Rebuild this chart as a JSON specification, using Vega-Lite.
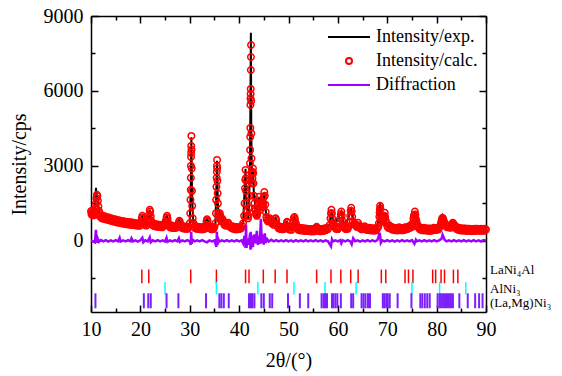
{
"$schema": "https://vega.github.io/schema/vega-lite/v6.json",
"width": 395, "height": 296,
"autosize": {"type": "none"},
"padding": {"left": 91, "top": 16, "right": 76, "bottom": 64},
"config": {"font": "Liberation Serif", "view": {"stroke": null},
 "legend": {"orient": "none", "legendX": 249, "legendY": 12, "labelFont": "Liberation Serif", "labelFontSize": 18, "labelColor": "black", "symbolStrokeWidth": 2, "symbolSize": 36, "labelOffset": 18, "rowPadding": 6, "padding": 0}},
"datasets": {
"calc": [
{"x":10.0,"c":1180},{"x":10.1,"c":1060},{"x":10.2,"c":1200},{"x":10.3,"c":1040},{"x":10.4,"c":1150},{"x":10.5,"c":1020},{"x":10.6,"c":1160},{"x":10.7,"c":1050},{"x":10.8,"c":1120},{"x":10.9,"c":1300},{"x":11.0,"c":1500},{"x":11.1,"c":1700},{"x":11.2,"c":1840},{"x":11.3,"c":1780},{"x":11.4,"c":1600},{"x":11.5,"c":1380},{"x":11.6,"c":1200},{"x":11.7,"c":1000},{"x":11.8,"c":1100},{"x":11.9,"c":960},{"x":12.0,"c":1010},
{"x":12.2,"c":900},{"x":12.4,"c":1000},{"x":12.6,"c":880},{"x":12.8,"c":980},{"x":13.0,"c":860},{"x":13.2,"c":940},{"x":13.4,"c":840},{"x":13.6,"c":930},{"x":13.8,"c":820},{"x":14.0,"c":900},{"x":14.2,"c":790},{"x":14.4,"c":880},{"x":14.6,"c":770},{"x":14.8,"c":860},{"x":15.0,"c":750},{"x":15.2,"c":840},{"x":15.4,"c":730},{"x":15.6,"c":820},{"x":15.8,"c":720},{"x":16.0,"c":800},{"x":16.2,"c":700},{"x":16.4,"c":790},{"x":16.6,"c":690},{"x":16.8,"c":770},{"x":17.0,"c":670},{"x":17.2,"c":760},{"x":17.4,"c":660},{"x":17.6,"c":750},{"x":17.8,"c":650},{"x":18.0,"c":740},{"x":18.2,"c":640},{"x":18.4,"c":730},{"x":18.6,"c":630},{"x":18.8,"c":710},{"x":19.0,"c":620},{"x":19.2,"c":700},{"x":19.4,"c":610},{"x":19.6,"c":690},{"x":19.8,"c":600},{"x":20.0,"c":690},
{"x":20.2,"c":780},{"x":20.3,"c":900},{"x":20.4,"c":1000},{"x":20.5,"c":930},{"x":20.6,"c":780},{"x":20.8,"c":640},{"x":21.0,"c":720},{"x":21.2,"c":610},{"x":21.4,"c":680},{"x":21.6,"c":780},{"x":21.7,"c":880},{"x":21.8,"c":1060},{"x":21.9,"c":1240},{"x":22.0,"c":1170},{"x":22.1,"c":980},{"x":22.2,"c":800},{"x":22.4,"c":640},{"x":22.6,"c":700},{"x":22.8,"c":590},{"x":23.0,"c":670},{"x":23.2,"c":570},{"x":23.4,"c":650},{"x":23.6,"c":560},{"x":23.8,"c":640},{"x":24.0,"c":550},{"x":24.2,"c":630},{"x":24.4,"c":540},{"x":24.6,"c":640},{"x":24.8,"c":600},{"x":25.0,"c":680},{"x":25.1,"c":780},{"x":25.3,"c":930},{"x":25.4,"c":1000},{"x":25.5,"c":880},{"x":25.7,"c":700},{"x":25.8,"c":620},{"x":26.0,"c":540},{"x":26.2,"c":610},{"x":26.4,"c":520},{"x":26.6,"c":600},{"x":26.8,"c":510},{"x":27.0,"c":590},{"x":27.2,"c":520},{"x":27.4,"c":600},{"x":27.6,"c":640},{"x":27.8,"c":740},{"x":27.9,"c":800},{"x":28.0,"c":750},{"x":28.2,"c":620},{"x":28.4,"c":520},{"x":28.6,"c":580},{"x":28.8,"c":490},{"x":29.0,"c":570},{"x":29.2,"c":480},{"x":29.4,"c":560},{"x":29.6,"c":480},{"x":29.8,"c":560},{"x":30.0,"c":700},
{"x":30.1,"c":1100},{"x":30.15,"c":1640},{"x":30.2,"c":2040},{"x":30.22,"c":2520},{"x":30.24,"c":3000},{"x":30.26,"c":3360},{"x":30.28,"c":3520},{"x":30.3,"c":3800},{"x":30.33,"c":4200},{"x":30.36,"c":3650},{"x":30.4,"c":2900},{"x":30.45,"c":2000},{"x":30.5,"c":1400},{"x":30.6,"c":900},{"x":30.7,"c":720},
{"x":30.8,"c":640},{"x":31.0,"c":520},{"x":31.2,"c":590},{"x":31.4,"c":480},{"x":31.6,"c":560},{"x":31.8,"c":470},{"x":32.0,"c":550},{"x":32.2,"c":460},{"x":32.4,"c":540},{"x":32.6,"c":460},{"x":32.8,"c":540},{"x":33.0,"c":480},{"x":33.2,"c":600},{"x":33.4,"c":780},{"x":33.5,"c":860},{"x":33.6,"c":800},{"x":33.8,"c":620},{"x":34.0,"c":500},{"x":34.2,"c":560},{"x":34.4,"c":460},{"x":34.6,"c":540},{"x":34.8,"c":470},{"x":35.0,"c":560},{"x":35.2,"c":700},
{"x":35.3,"c":1100},{"x":35.35,"c":1640},{"x":35.4,"c":2160},{"x":35.45,"c":2520},{"x":35.48,"c":2760},{"x":35.5,"c":3000},{"x":35.53,"c":3240},{"x":35.56,"c":2900},{"x":35.6,"c":2400},{"x":35.65,"c":1900},{"x":35.7,"c":1500},{"x":35.8,"c":1100},{"x":35.9,"c":900},{"x":36.0,"c":1000},{"x":36.1,"c":1100},
{"x":36.2,"c":980},{"x":36.3,"c":860},{"x":36.4,"c":780},{"x":36.5,"c":840},{"x":36.6,"c":880},{"x":36.7,"c":820},{"x":36.8,"c":760},{"x":37.0,"c":640},{"x":37.2,"c":700},{"x":37.4,"c":600},{"x":37.6,"c":680},{"x":37.8,"c":720},{"x":38.0,"c":640},{"x":38.2,"c":560},{"x":38.4,"c":520},{"x":38.6,"c":580},{"x":38.8,"c":480},{"x":39.0,"c":560},{"x":39.2,"c":460},{"x":39.4,"c":550},{"x":39.6,"c":460},{"x":39.8,"c":540},{"x":40.0,"c":470},{"x":40.2,"c":550},{"x":40.4,"c":500},{"x":40.6,"c":600},{"x":40.8,"c":700},
{"x":41.0,"c":1000},{"x":41.1,"c":1500},{"x":41.2,"c":2100},{"x":41.25,"c":2440},{"x":41.3,"c":2840},{"x":41.35,"c":2500},{"x":41.4,"c":2000},{"x":41.5,"c":1500},{"x":41.6,"c":1200},{"x":41.7,"c":1000},{"x":41.8,"c":900},{"x":41.9,"c":1000},{"x":42.0,"c":1300},{"x":42.1,"c":1800},{"x":42.15,"c":2400},{"x":42.2,"c":3100},{"x":42.23,"c":3640},{"x":42.25,"c":4160},{"x":42.27,"c":4520},{"x":42.29,"c":5440},{"x":42.31,"c":5700},{"x":42.33,"c":5880},{"x":42.35,"c":6080},{"x":42.37,"c":6840},{"x":42.39,"c":7360},{"x":42.41,"c":7840},{"x":42.44,"c":5600},{"x":42.47,"c":4300},{"x":42.5,"c":3300},{"x":42.55,"c":2700},{"x":42.6,"c":2300},{"x":42.7,"c":2500},{"x":42.75,"c":2760},{"x":42.8,"c":2900},{"x":42.85,"c":2700},{"x":42.9,"c":2300},{"x":43.0,"c":1800},{"x":43.1,"c":1500},{"x":43.2,"c":1300},{"x":43.3,"c":1200},{"x":43.4,"c":1100},{"x":43.5,"c":1050},{"x":43.6,"c":1000},{"x":43.7,"c":1100},{"x":43.8,"c":1300},{"x":43.9,"c":1500},{"x":44.0,"c":1760},{"x":44.1,"c":1600},{"x":44.2,"c":1400},{"x":44.3,"c":1250},{"x":44.4,"c":1350},{"x":44.5,"c":1500},{"x":44.6,"c":1550},{"x":44.7,"c":1500},{"x":44.8,"c":1350},{"x":44.9,"c":1500},{"x":45.0,"c":1750},{"x":45.1,"c":1950},{"x":45.2,"c":1800},{"x":45.3,"c":1450},{"x":45.4,"c":1150},{"x":45.5,"c":950},{"x":45.6,"c":850},
{"x":45.8,"c":780},{"x":46.0,"c":820},{"x":46.1,"c":880},{"x":46.2,"c":900},{"x":46.3,"c":850},{"x":46.4,"c":800},{"x":46.6,"c":700},{"x":46.8,"c":720},{"x":47.0,"c":640},{"x":47.1,"c":720},{"x":47.3,"c":880},{"x":47.4,"c":900},{"x":47.5,"c":820},{"x":47.7,"c":650},{"x":47.8,"c":580},{"x":48.0,"c":500},{"x":48.2,"c":560},{"x":48.4,"c":470},{"x":48.6,"c":550},{"x":48.8,"c":460},{"x":49.0,"c":540},{"x":49.2,"c":480},{"x":49.4,"c":560},{"x":49.5,"c":620},{"x":49.7,"c":760},{"x":49.8,"c":720},{"x":50.0,"c":560},{"x":50.2,"c":450},{"x":50.4,"c":530},{"x":50.6,"c":440},{"x":50.8,"c":560},{"x":51.0,"c":760},{"x":51.1,"c":920},{"x":51.2,"c":950},{"x":51.3,"c":860},{"x":51.5,"c":700},{"x":51.6,"c":600},{"x":51.8,"c":520},{"x":52.0,"c":440},{"x":52.2,"c":520},{"x":52.4,"c":420},{"x":52.6,"c":510},{"x":52.8,"c":410},{"x":53.0,"c":500},{"x":53.2,"c":400},{"x":53.4,"c":490},{"x":53.6,"c":390},{"x":53.8,"c":480},{"x":54.0,"c":390},{"x":54.2,"c":470},{"x":54.4,"c":380},{"x":54.6,"c":470},{"x":54.8,"c":380},{"x":55.0,"c":460},{"x":55.2,"c":380},{"x":55.4,"c":470},{"x":55.6,"c":520},{"x":55.7,"c":560},{"x":55.8,"c":480},{"x":56.0,"c":400},{"x":56.2,"c":470},{"x":56.4,"c":380},{"x":56.6,"c":470},{"x":56.8,"c":390},{"x":57.0,"c":480},{"x":57.2,"c":400},{"x":57.4,"c":500},{"x":57.6,"c":430},{"x":57.8,"c":510},{"x":58.0,"c":470},
{"x":58.3,"c":620},{"x":58.5,"c":900},{"x":58.6,"c":1100},{"x":58.7,"c":1240},{"x":58.8,"c":1100},{"x":58.9,"c":880},{"x":59.0,"c":720},{"x":59.2,"c":620},{"x":59.4,"c":560},{"x":59.6,"c":480},{"x":59.8,"c":560},{"x":60.0,"c":470},{"x":60.2,"c":540},{"x":60.4,"c":700},{"x":60.5,"c":900},{"x":60.6,"c":1060},{"x":60.7,"c":1170},{"x":60.8,"c":1000},{"x":60.9,"c":800},{"x":61.1,"c":620},{"x":61.3,"c":520},{"x":61.4,"c":560},{"x":61.6,"c":470},{"x":61.8,"c":540},{"x":62.0,"c":480},{"x":62.2,"c":580},{"x":62.4,"c":760},{"x":62.5,"c":1000},{"x":62.6,"c":1200},{"x":62.7,"c":1320},{"x":62.8,"c":1180},{"x":62.9,"c":960},{"x":63.0,"c":780},{"x":63.2,"c":660},{"x":63.4,"c":700},{"x":63.6,"c":640},{"x":63.8,"c":560},{"x":63.9,"c":600},{"x":64.1,"c":720},{"x":64.3,"c":620},{"x":64.4,"c":520},{"x":64.6,"c":560},{"x":64.8,"c":460},
{"x":65.0,"c":540},{"x":65.2,"c":470},{"x":65.4,"c":580},{"x":65.6,"c":540},{"x":65.8,"c":440},{"x":66.0,"c":520},{"x":66.2,"c":430},{"x":66.4,"c":520},{"x":66.6,"c":420},{"x":66.8,"c":500},{"x":67.0,"c":410},{"x":67.2,"c":500},{"x":67.4,"c":410},{"x":67.6,"c":490},{"x":67.8,"c":420},{"x":68.0,"c":520},{"x":68.2,"c":560},{"x":68.3,"c":700},{"x":68.4,"c":960},{"x":68.45,"c":1120},{"x":68.5,"c":1240},{"x":68.55,"c":1400},{"x":68.6,"c":1300},{"x":68.7,"c":1050},{"x":68.8,"c":900},{"x":68.9,"c":850},{"x":69.0,"c":800},{"x":69.1,"c":760},{"x":69.3,"c":900},{"x":69.4,"c":1000},{"x":69.5,"c":1120},{"x":69.6,"c":950},{"x":69.7,"c":800},
{"x":69.8,"c":720},{"x":70.0,"c":580},{"x":70.2,"c":520},{"x":70.4,"c":620},{"x":70.6,"c":500},{"x":70.8,"c":560},{"x":71.0,"c":450},{"x":71.2,"c":530},{"x":71.4,"c":430},{"x":71.6,"c":510},{"x":71.8,"c":420},{"x":72.0,"c":500},{"x":72.2,"c":420},{"x":72.4,"c":540},{"x":72.6,"c":440},{"x":72.8,"c":510},{"x":73.0,"c":420},{"x":73.2,"c":500},{"x":73.4,"c":430},{"x":73.6,"c":540},{"x":73.8,"c":460},{"x":74.0,"c":540},{"x":74.2,"c":480},{"x":74.4,"c":580},{"x":74.6,"c":520},{"x":74.8,"c":620},{"x":75.0,"c":560},{"x":75.1,"c":700},{"x":75.3,"c":900},{"x":75.4,"c":1000},{"x":75.5,"c":1040},{"x":75.6,"c":1170},{"x":75.7,"c":1050},{"x":75.8,"c":880},{"x":75.9,"c":780},
{"x":76.0,"c":700},{"x":76.2,"c":560},{"x":76.3,"c":580},{"x":76.5,"c":480},{"x":76.6,"c":540},{"x":76.8,"c":440},{"x":77.0,"c":510},{"x":77.2,"c":420},{"x":77.4,"c":520},{"x":77.6,"c":420},{"x":77.8,"c":500},{"x":78.0,"c":410},{"x":78.2,"c":490},{"x":78.4,"c":400},{"x":78.6,"c":490},{"x":78.8,"c":400},{"x":79.0,"c":480},{"x":79.2,"c":420},{"x":79.4,"c":520},{"x":79.6,"c":430},{"x":79.8,"c":510},{"x":80.0,"c":440},{"x":80.2,"c":520},{"x":80.4,"c":460},{"x":80.6,"c":560},{"x":80.8,"c":640},{"x":80.9,"c":720},{"x":81.0,"c":800},{"x":81.1,"c":880},{"x":81.2,"c":920},{"x":81.3,"c":880},{"x":81.4,"c":820},{"x":81.5,"c":760},{"x":81.6,"c":700},
{"x":81.8,"c":640},{"x":82.0,"c":560},{"x":82.1,"c":620},{"x":82.3,"c":540},{"x":82.6,"c":580},{"x":82.8,"c":520},{"x":82.9,"c":620},{"x":83.1,"c":660},{"x":83.2,"c":700},{"x":83.3,"c":720},{"x":83.5,"c":660},{"x":83.7,"c":540},{"x":83.8,"c":580},{"x":84.0,"c":480},{"x":84.2,"c":540},{"x":84.4,"c":440},{"x":84.6,"c":510},{"x":84.8,"c":420},{"x":85.0,"c":500},{"x":85.2,"c":410},{"x":85.4,"c":490},{"x":85.6,"c":410},{"x":85.8,"c":490},{"x":86.0,"c":400},{"x":86.2,"c":480},{"x":86.4,"c":400},{"x":86.6,"c":480},{"x":86.8,"c":400},{"x":87.0,"c":470},{"x":87.2,"c":390},{"x":87.4,"c":470},{"x":87.6,"c":400},{"x":87.8,"c":480},{"x":88.0,"c":400},{"x":88.2,"c":480},{"x":88.4,"c":410},{"x":88.6,"c":470},{"x":88.8,"c":400},{"x":89.0,"c":480},{"x":89.2,"c":410},{"x":89.4,"c":470},{"x":89.6,"c":400},{"x":89.8,"c":480},{"x":90.0,"c":450}
],
"exp": [
{"x":10.0,"e":1150},{"x":10.5,"e":1120},{"x":10.8,"e":1150},{"x":10.9,"e":1500},{"x":11.0,"e":2120},{"x":11.1,"e":1900},{"x":11.2,"e":1800},{"x":11.4,"e":1600},{"x":11.6,"e":1200},{"x":12.0,"e":1000},{"x":14.0,"e":840},{"x":16.0,"e":760},{"x":18.0,"e":690},{"x":20.0,"e":650},{"x":20.4,"e":1000},{"x":20.8,"e":660},{"x":21.5,"e":680},{"x":21.9,"e":1250},{"x":22.4,"e":670},{"x":24.0,"e":590},{"x":25.4,"e":1000},{"x":26.0,"e":570},{"x":27.9,"e":800},{"x":29.0,"e":530},{"x":30.0,"e":700},{"x":30.2,"e":2100},{"x":30.33,"e":4150},{"x":30.45,"e":2000},{"x":30.7,"e":700},{"x":32.0,"e":510},{"x":33.5,"e":860},{"x":34.6,"e":510},{"x":35.2,"e":700},{"x":35.4,"e":2200},{"x":35.53,"e":3200},{"x":35.7,"e":1500},{"x":35.9,"e":900},{"x":36.1,"e":1100},{"x":36.6,"e":850},{"x":37.4,"e":620},{"x":38.0,"e":640},{"x":40.0,"e":500},{"x":40.8,"e":700},{"x":41.3,"e":2880},{"x":41.5,"e":1500},{"x":41.8,"e":900},{"x":42.0,"e":1300},{"x":42.2,"e":3100},{"x":42.38,"e":8330},{"x":42.47,"e":4300},{"x":42.6,"e":2300},{"x":42.8,"e":2900},{"x":43.0,"e":1800},{"x":43.6,"e":1000},{"x":44.0,"e":1760},{"x":44.3,"e":1250},{"x":44.6,"e":1550},{"x":44.8,"e":1350},{"x":45.1,"e":1950},{"x":45.5,"e":950},{"x":46.2,"e":880},{"x":46.8,"e":700},{"x":47.4,"e":900},{"x":48.0,"e":520},{"x":49.7,"e":760},{"x":50.4,"e":490},{"x":51.2,"e":950},{"x":52.0,"e":470},{"x":55.0,"e":430},{"x":58.3,"e":620},{"x":58.7,"e":1180},{"x":59.2,"e":620},{"x":60.7,"e":1170},{"x":61.4,"e":540},{"x":62.7,"e":1250},{"x":63.2,"e":660},{"x":65.0,"e":500},{"x":68.0,"e":480},{"x":68.55,"e":1500},{"x":69.0,"e":800},{"x":69.5,"e":1120},{"x":70.0,"e":580},{"x":74.8,"e":580},{"x":75.6,"e":1150},{"x":76.3,"e":560},{"x":78.0,"e":450},{"x":80.6,"e":540},{"x":81.2,"e":1000},{"x":82.0,"e":600},{"x":83.3,"e":720},{"x":84.0,"e":500},{"x":87.0,"e":440},{"x":90.0,"e":450}
],
"diff": [
{"x":10.0,"d":20},{"x":10.5,"d":-30},{"x":10.8,"d":-60},{"x":10.9,"d":200},{"x":11.0,"d":440},{"x":11.1,"d":-80},{"x":11.3,"d":120},{"x":11.6,"d":-40},{"x":12.0,"d":30},{"x":12.5,"d":-20},{"x":13.0,"d":30},{"x":13.5,"d":-30},{"x":14.0,"d":20},{"x":14.5,"d":-20},{"x":15.0,"d":30},{"x":15.5,"d":-20},{"x":15.8,"d":120},{"x":16.0,"d":-30},{"x":16.5,"d":20},{"x":17.0,"d":-20},{"x":17.5,"d":30},{"x":18.0,"d":-20},{"x":18.2,"d":100},{"x":18.5,"d":-20},{"x":19.0,"d":20},{"x":19.5,"d":-30},{"x":20.0,"d":20},{"x":20.4,"d":120},{"x":20.6,"d":-60},{"x":21.0,"d":20},{"x":21.5,"d":-20},{"x":21.9,"d":140},{"x":22.1,"d":-60},{"x":22.5,"d":20},{"x":23.0,"d":-20},{"x":23.5,"d":30},{"x":24.0,"d":-20},{"x":24.5,"d":20},{"x":25.0,"d":-30},{"x":25.3,"d":120},{"x":25.5,"d":-40},{"x":26.0,"d":20},{"x":26.5,"d":-20},{"x":27.0,"d":30},{"x":27.5,"d":-20},{"x":27.8,"d":100},{"x":28.0,"d":-40},{"x":28.5,"d":20},{"x":29.0,"d":-20},{"x":29.5,"d":30},{"x":30.0,"d":-20},{"x":30.2,"d":-160},{"x":30.3,"d":360},{"x":30.4,"d":-120},{"x":30.6,"d":40},{"x":31.0,"d":-20},{"x":31.5,"d":20},{"x":32.0,"d":-20},{"x":32.5,"d":30},{"x":33.0,"d":-20},{"x":33.5,"d":-60},{"x":34.0,"d":20},{"x":34.5,"d":-20},{"x":35.0,"d":20},{"x":35.4,"d":-240},{"x":35.5,"d":360},{"x":35.6,"d":-160},{"x":35.8,"d":60},{"x":36.0,"d":-30},{"x":36.5,"d":20},{"x":37.0,"d":-20},{"x":37.5,"d":30},{"x":38.0,"d":-20},{"x":38.5,"d":20},{"x":39.0,"d":-20},{"x":39.5,"d":30},{"x":40.0,"d":-20},{"x":40.5,"d":20},{"x":40.8,"d":-100},{"x":41.1,"d":200},{"x":41.3,"d":-280},{"x":41.4,"d":640},{"x":41.5,"d":-280},{"x":41.7,"d":100},{"x":42.0,"d":-160},{"x":42.2,"d":300},{"x":42.3,"d":-360},{"x":42.35,"d":360},{"x":42.45,"d":-300},{"x":42.6,"d":200},{"x":42.8,"d":-240},{"x":43.0,"d":250},{"x":43.3,"d":-100},{"x":43.6,"d":400},{"x":43.8,"d":-160},{"x":44.0,"d":200},{"x":44.2,"d":-120},{"x":44.4,"d":880},{"x":44.6,"d":-100},{"x":44.8,"d":250},{"x":45.0,"d":-150},{"x":45.2,"d":300},{"x":45.4,"d":-80},{"x":45.7,"d":60},{"x":46.0,"d":-30},{"x":46.5,"d":40},{"x":47.0,"d":-20},{"x":47.5,"d":30},{"x":48.0,"d":-20},{"x":48.5,"d":20},{"x":49.0,"d":-20},{"x":49.5,"d":30},{"x":50.0,"d":-20},{"x":50.5,"d":20},{"x":51.0,"d":-30},{"x":51.5,"d":30},{"x":52.0,"d":-20},{"x":52.5,"d":20},{"x":53.0,"d":-20},{"x":53.5,"d":30},{"x":54.0,"d":-20},{"x":54.5,"d":20},{"x":55.0,"d":-20},{"x":55.5,"d":30},{"x":56.0,"d":-20},{"x":56.5,"d":20},{"x":57.0,"d":-30},{"x":57.5,"d":20},{"x":58.0,"d":-20},{"x":58.6,"d":-220},{"x":58.8,"d":60},{"x":59.0,"d":-20},{"x":59.5,"d":20},{"x":60.0,"d":-20},{"x":60.5,"d":30},{"x":60.7,"d":-100},{"x":61.0,"d":20},{"x":61.5,"d":-20},{"x":62.0,"d":30},{"x":62.5,"d":-20},{"x":62.8,"d":-140},{"x":63.1,"d":100},{"x":63.5,"d":-20},{"x":64.0,"d":20},{"x":64.5,"d":-30},{"x":65.0,"d":20},{"x":65.5,"d":-20},{"x":66.0,"d":30},{"x":66.5,"d":-20},{"x":67.0,"d":20},{"x":67.5,"d":-20},{"x":68.0,"d":30},{"x":68.5,"d":320},{"x":68.7,"d":-80},{"x":69.0,"d":20},{"x":69.5,"d":-20},{"x":70.0,"d":30},{"x":70.5,"d":-20},{"x":71.0,"d":20},{"x":71.5,"d":-30},{"x":72.0,"d":20},{"x":72.5,"d":-20},{"x":73.0,"d":30},{"x":73.5,"d":-20},{"x":74.0,"d":20},{"x":74.5,"d":-20},{"x":75.0,"d":30},{"x":75.5,"d":-120},{"x":75.8,"d":40},{"x":76.0,"d":-20},{"x":76.5,"d":20},{"x":77.0,"d":-20},{"x":77.5,"d":30},{"x":78.0,"d":-20},{"x":78.5,"d":20},{"x":79.0,"d":-20},{"x":79.5,"d":30},{"x":80.0,"d":-20},{"x":80.5,"d":20},{"x":81.0,"d":80},{"x":81.2,"d":240},{"x":81.4,"d":150},{"x":81.6,"d":40},{"x":82.0,"d":-20},{"x":82.5,"d":20},{"x":83.0,"d":-20},{"x":83.5,"d":30},{"x":84.0,"d":-20},{"x":84.5,"d":20},{"x":85.0,"d":-20},{"x":85.5,"d":30},{"x":86.0,"d":-20},{"x":86.5,"d":20},{"x":87.0,"d":-20},{"x":87.5,"d":30},{"x":88.0,"d":-20},{"x":88.5,"d":20},{"x":89.0,"d":-20},{"x":89.5,"d":30},{"x":90.0,"d":0}
],
"ticks": [
{"x":20.3,"p":"LaNi4Al"},{"x":21.7,"p":"LaNi4Al"},{"x":30.2,"p":"LaNi4Al"},{"x":35.4,"p":"LaNi4Al"},{"x":41.3,"p":"LaNi4Al"},{"x":42.0,"p":"LaNi4Al"},{"x":44.9,"p":"LaNi4Al"},{"x":47.3,"p":"LaNi4Al"},{"x":49.7,"p":"LaNi4Al"},{"x":55.7,"p":"LaNi4Al"},{"x":58.6,"p":"LaNi4Al"},{"x":60.6,"p":"LaNi4Al"},{"x":62.6,"p":"LaNi4Al"},{"x":64.1,"p":"LaNi4Al"},{"x":68.8,"p":"LaNi4Al"},{"x":69.7,"p":"LaNi4Al"},{"x":73.6,"p":"LaNi4Al"},{"x":74.3,"p":"LaNi4Al"},{"x":75.2,"p":"LaNi4Al"},{"x":79.2,"p":"LaNi4Al"},{"x":79.8,"p":"LaNi4Al"},{"x":80.9,"p":"LaNi4Al"},{"x":81.6,"p":"LaNi4Al"},{"x":83.4,"p":"LaNi4Al"},{"x":84.3,"p":"LaNi4Al"},
{"x":25.0,"p":"AlNi3"},{"x":35.4,"p":"AlNi3"},{"x":43.8,"p":"AlNi3"},{"x":51.1,"p":"AlNi3"},{"x":57.4,"p":"AlNi3"},{"x":63.7,"p":"AlNi3"},{"x":75.0,"p":"AlNi3"},{"x":80.6,"p":"AlNi3"},{"x":85.9,"p":"AlNi3"},
{"x":10.9,"p":"LaMgNi3"},{"x":20.7,"p":"LaMgNi3"},{"x":21.6,"p":"LaMgNi3"},{"x":22.1,"p":"LaMgNi3"},{"x":25.3,"p":"LaMgNi3"},{"x":27.7,"p":"LaMgNi3"},{"x":33.3,"p":"LaMgNi3"},{"x":36.0,"p":"LaMgNi3"},{"x":36.4,"p":"LaMgNi3"},{"x":36.9,"p":"LaMgNi3"},{"x":37.9,"p":"LaMgNi3"},{"x":42.0,"p":"LaMgNi3"},{"x":42.4,"p":"LaMgNi3"},{"x":42.7,"p":"LaMgNi3"},{"x":43.1,"p":"LaMgNi3"},{"x":44.5,"p":"LaMgNi3"},{"x":45.0,"p":"LaMgNi3"},{"x":46.2,"p":"LaMgNi3"},{"x":46.7,"p":"LaMgNi3"},{"x":49.9,"p":"LaMgNi3"},{"x":52.3,"p":"LaMgNi3"},{"x":54.0,"p":"LaMgNi3"},{"x":56.7,"p":"LaMgNi3"},{"x":57.1,"p":"LaMgNi3"},{"x":57.4,"p":"LaMgNi3"},{"x":57.8,"p":"LaMgNi3"},{"x":58.8,"p":"LaMgNi3"},{"x":59.1,"p":"LaMgNi3"},{"x":59.5,"p":"LaMgNi3"},{"x":59.9,"p":"LaMgNi3"},{"x":60.6,"p":"LaMgNi3"},{"x":62.7,"p":"LaMgNi3"},{"x":63.1,"p":"LaMgNi3"},{"x":64.8,"p":"LaMgNi3"},{"x":65.2,"p":"LaMgNi3"},{"x":65.6,"p":"LaMgNi3"},{"x":66.1,"p":"LaMgNi3"},{"x":66.5,"p":"LaMgNi3"},{"x":69.1,"p":"LaMgNi3"},{"x":69.4,"p":"LaMgNi3"},{"x":69.8,"p":"LaMgNi3"},{"x":70.1,"p":"LaMgNi3"},{"x":70.5,"p":"LaMgNi3"},{"x":72.1,"p":"LaMgNi3"},{"x":74.9,"p":"LaMgNi3"},{"x":76.7,"p":"LaMgNi3"},{"x":77.1,"p":"LaMgNi3"},{"x":77.6,"p":"LaMgNi3"},{"x":78.1,"p":"LaMgNi3"},{"x":78.6,"p":"LaMgNi3"},{"x":80.2,"p":"LaMgNi3"},{"x":80.6,"p":"LaMgNi3"},{"x":80.9,"p":"LaMgNi3"},{"x":81.3,"p":"LaMgNi3"},{"x":81.7,"p":"LaMgNi3"},{"x":82.1,"p":"LaMgNi3"},{"x":82.5,"p":"LaMgNi3"},{"x":82.9,"p":"LaMgNi3"},{"x":83.3,"p":"LaMgNi3"},{"x":84.6,"p":"LaMgNi3"},{"x":86.3,"p":"LaMgNi3"},{"x":87.8,"p":"LaMgNi3"},{"x":88.6,"p":"LaMgNi3"},{"x":89.3,"p":"LaMgNi3"}
]
},
"layer": [
{"data": {"name": "exp"},
 "mark": {"type": "line", "strokeWidth": 2},
 "encoding": {
  "x": {"field": "x", "type": "quantitative", "scale": {"domain": [10, 90], "nice": false, "zero": false},
   "axis": {"orient": "bottom", "values": [10,15,20,25,30,35,40,45,50,55,60,65,70,75,80,85,90], "format": "d", "labelExpr": "datum.value % 10 === 0 ? datum.label : ''", "tickSize": {"condition": {"test": "datum.value % 10 === 0", "value": -7}, "value": -4}, "labelPadding": 14, "labelFontSize": 20, "labelFont": "Liberation Serif", "labelColor": "black", "labelOverlap": false, "labelFlush": false, "title": "2θ/(°)", "titleFont": "Liberation Serif", "titleFontSize": 20, "titleFontWeight": "normal", "titleColor": "black", "titlePadding": 8, "grid": false, "domainColor": "black", "domainWidth": 1.5, "tickColor": "black", "tickWidth": 1.5}},
  "y": {"field": "e", "type": "quantitative", "scale": {"domain": [-2850, 9000], "nice": false, "zero": false},
   "axis": {"orient": "left", "values": [-1500,0,1500,3000,4500,6000,7500,9000], "format": "d", "labelExpr": "datum.value % 3000 === 0 ? datum.label : ''", "tickSize": {"condition": {"test": "datum.value % 3000 === 0", "value": -7}, "value": -4}, "labelPadding": 15, "labelFontSize": 20, "labelFont": "Liberation Serif", "labelColor": "black", "labelOverlap": false, "title": "Intensity/cps", "titleFont": "Liberation Serif", "titleFontSize": 20, "titleFontWeight": "normal", "titleColor": "black", "titlePadding": 14, "grid": false, "domainColor": "black", "domainWidth": 1.5, "tickColor": "black", "tickWidth": 1.5}},
  "color": {"datum": "Intensity/exp.", "type": "nominal", "scale": {"domain": ["Intensity/exp.", "Intensity/calc.", "Diffraction"], "range": ["#000000", "#ff0000", "#9f00ff"]}, "legend": {"title": null, "labelFont": "Liberation Serif"}}
 }},
{"data": {"name": "calc"},
 "mark": {"type": "point", "filled": false, "size": 42, "strokeWidth": 1.5, "opacity": 1},
 "encoding": {
  "x": {"field": "x", "type": "quantitative", "scale": {"domain": [10, 90], "nice": false, "zero": false},
   "axis": {"orient": "top", "values": [10,15,20,25,30,35,40,45,50,55,60,65,70,75,80,85,90], "labels": false, "title": null, "tickSize": {"condition": {"test": "datum.value % 10 === 0", "value": -7}, "value": -4}, "grid": false, "domainColor": "black", "domainWidth": 1.5, "tickColor": "black", "tickWidth": 1.5}},
  "y": {"field": "c", "type": "quantitative", "scale": {"domain": [-2850, 9000], "nice": false, "zero": false},
   "axis": {"orient": "right", "values": [-1500,0,1500,3000,4500,6000,7500,9000], "labels": false, "title": null, "tickSize": {"condition": {"test": "datum.value % 3000 === 0", "value": -7}, "value": -4}, "grid": false, "domainColor": "black", "domainWidth": 1.5, "tickColor": "black", "tickWidth": 1.5}},
  "color": {"datum": "Intensity/calc.", "type": "nominal", "scale": {"domain": ["Intensity/exp.", "Intensity/calc.", "Diffraction"], "range": ["#000000", "#ff0000", "#9f00ff"]}, "legend": {"title": null, "labelFont": "Liberation Serif"}},
  "shape": {"datum": "Intensity/calc.", "type": "nominal", "scale": {"domain": ["Intensity/exp.", "Intensity/calc.", "Diffraction"], "range": ["M-7,0H7", "circle", "M-7,0H7"]}, "legend": {"title": null, "labelFont": "Liberation Serif"}}
 }},
{"data": {"name": "diff"},
 "mark": {"type": "line", "strokeWidth": 2.5},
 "encoding": {
  "x": {"field": "x", "type": "quantitative", "scale": {"domain": [10, 90], "nice": false, "zero": false}, "axis": null},
  "y": {"field": "d", "type": "quantitative", "scale": {"domain": [-2850, 9000], "nice": false, "zero": false}, "axis": null},
  "color": {"datum": "Diffraction", "type": "nominal", "scale": {"domain": ["Intensity/exp.", "Intensity/calc.", "Diffraction"], "range": ["#000000", "#ff0000", "#9f00ff"]}, "legend": {"title": null, "labelFont": "Liberation Serif"}}
 }},
{"data": {"name": "ticks"}, "transform": [{"filter": "datum.p === 'LaNi4Al'"}],
 "mark": {"type": "rule", "color": "#ff0000", "strokeWidth": 1.5},
 "encoding": {
  "x": {"field": "x", "type": "quantitative", "scale": {"domain": [10, 90], "nice": false, "zero": false}, "axis": null},
  "y": {"datum": -1150, "type": "quantitative", "scale": {"domain": [-2850, 9000], "nice": false, "zero": false}, "axis": null},
  "y2": {"datum": -1700}
 }},
{"data": {"name": "ticks"}, "transform": [{"filter": "datum.p === 'AlNi3'"}],
 "mark": {"type": "rule", "color": "#00ffff", "strokeWidth": 1.5},
 "encoding": {
  "x": {"field": "x", "type": "quantitative", "scale": {"domain": [10, 90], "nice": false, "zero": false}, "axis": null},
  "y": {"datum": -1650, "type": "quantitative", "scale": {"domain": [-2850, 9000], "nice": false, "zero": false}, "axis": null},
  "y2": {"datum": -2150}
 }},
{"data": {"name": "ticks"}, "transform": [{"filter": "datum.p === 'LaMgNi3'"}],
 "mark": {"type": "rule", "color": "#7b1fff", "strokeWidth": 2},
 "encoding": {
  "x": {"field": "x", "type": "quantitative", "scale": {"domain": [10, 90], "nice": false, "zero": false}, "axis": null},
  "y": {"datum": -2100, "type": "quantitative", "scale": {"domain": [-2850, 9000], "nice": false, "zero": false}, "axis": null},
  "y2": {"datum": -2700}
 }},
{"data": {"values": [{}]},
 "mark": {"type": "text", "align": "left", "baseline": "middle", "dx": 4, "fontSize": 13, "font": "Liberation Serif", "color": "black"},
 "encoding": {
  "x": {"datum": 90, "type": "quantitative", "scale": {"domain": [10, 90], "nice": false, "zero": false}, "axis": null},
  "y": {"datum": -1180, "type": "quantitative", "scale": {"domain": [-2850, 9000], "nice": false, "zero": false}, "axis": null},
  "text": {"value": "LaNi₄Al"}
 }},
{"data": {"values": [{}]},
 "mark": {"type": "text", "align": "left", "baseline": "middle", "dx": 4, "fontSize": 13, "font": "Liberation Serif", "color": "black"},
 "encoding": {
  "x": {"datum": 90, "type": "quantitative", "scale": {"domain": [10, 90], "nice": false, "zero": false}, "axis": null},
  "y": {"datum": -1920, "type": "quantitative", "scale": {"domain": [-2850, 9000], "nice": false, "zero": false}, "axis": null},
  "text": {"value": "AlNi₃"}
 }},
{"data": {"values": [{}]},
 "mark": {"type": "text", "align": "left", "baseline": "middle", "dx": 4, "fontSize": 13, "font": "Liberation Serif", "color": "black"},
 "encoding": {
  "x": {"datum": 90, "type": "quantitative", "scale": {"domain": [10, 90], "nice": false, "zero": false}, "axis": null},
  "y": {"datum": -2500, "type": "quantitative", "scale": {"domain": [-2850, 9000], "nice": false, "zero": false}, "axis": null},
  "text": {"value": "(La,Mg)Ni₃"}
 }}
],
"resolve": {"axis": {"x": "independent", "y": "independent"}}
}
